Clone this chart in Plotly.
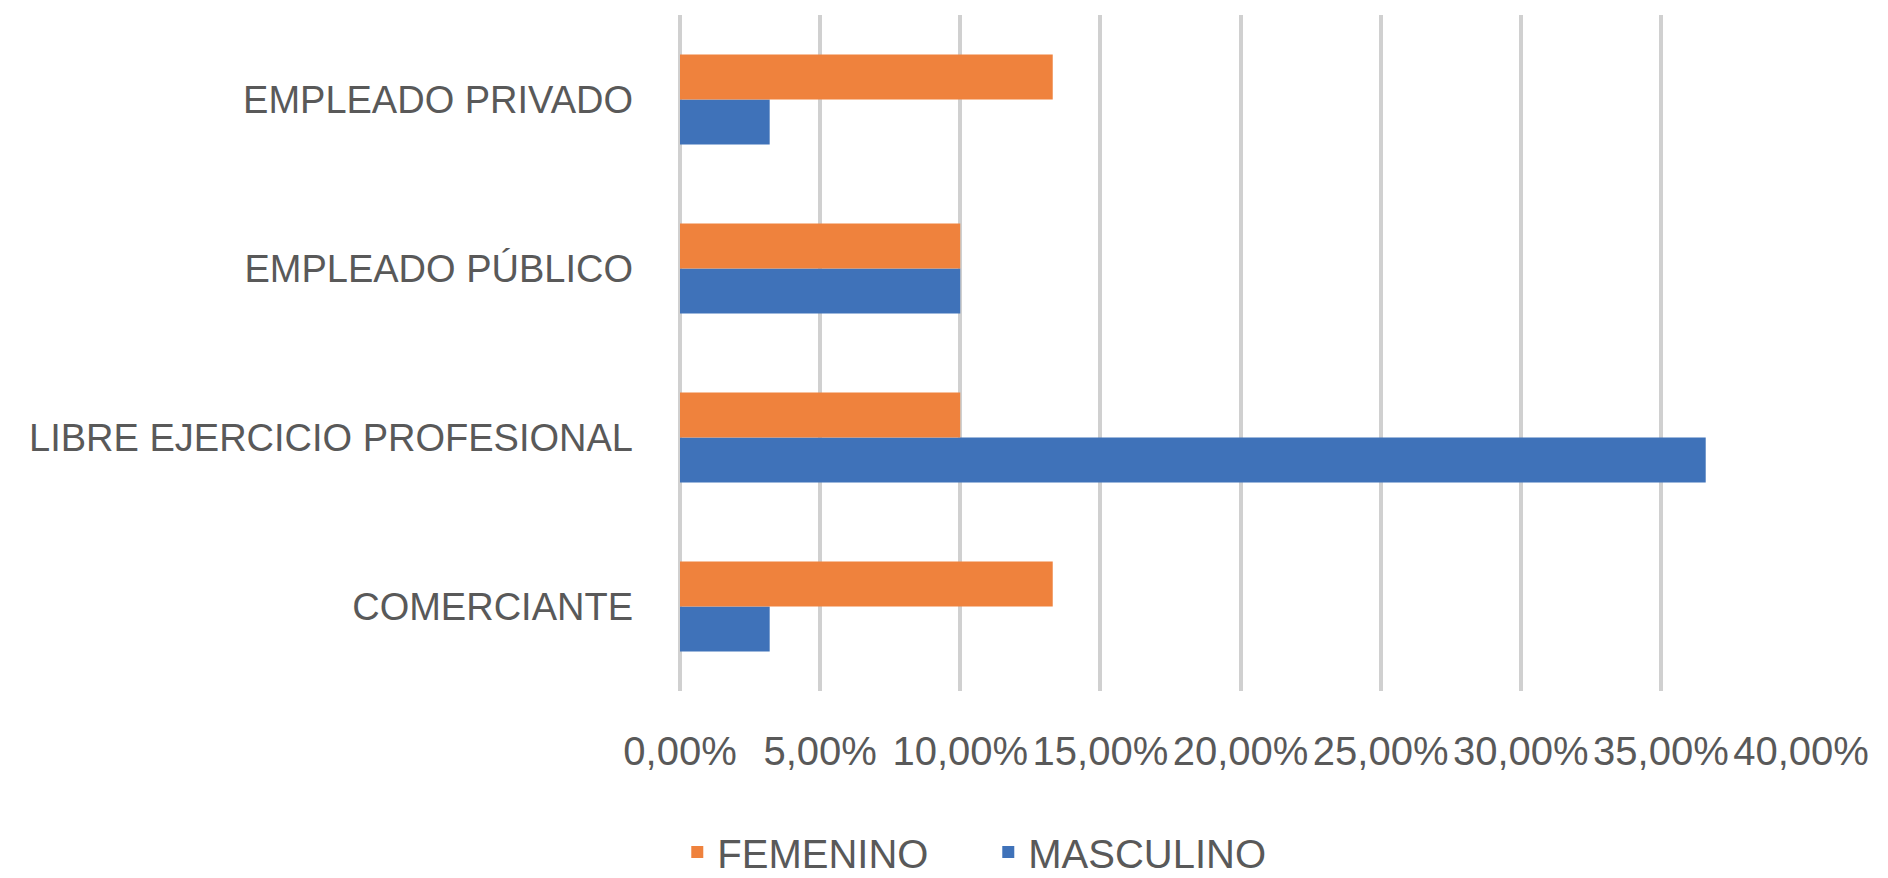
import plotly.graph_objects as go

categories = ["COMERCIANTE", "LIBRE EJERCICIO PROFESIONAL", "EMPLEADO PÚBLICO", "EMPLEADO PRIVADO"]
femenino = [0.133, 0.100, 0.100, 0.133]
masculino = [0.032, 0.366, 0.100, 0.032]
x_ticks = [0, 0.05, 0.10, 0.15, 0.20, 0.25, 0.30, 0.35, 0.40]

FONT = "Liberation Sans"
TXT = "#595959"

fig = go.Figure()
fig.add_trace(go.Bar(y=categories, x=masculino, name="MASCULINO", orientation="h",
                     marker=dict(color="#3F72B9", line=dict(width=0))))
fig.add_trace(go.Bar(y=categories, x=femenino, name="FEMENINO", orientation="h",
                     marker=dict(color="#EF823D", line=dict(width=0))))

fig.update_layout(
    width=1880, height=870,
    paper_bgcolor="white", plot_bgcolor="white",
    margin=dict(l=672, r=87, t=7, b=187),
    barmode="group", bargap=0.467, bargroupgap=0,
    separators=",.",
    font=dict(family=FONT, size=38, color=TXT),
    showlegend=True,
    legend=dict(orientation="h", traceorder="reversed",
                xref="container", yref="container",
                x=0.356, xanchor="left", y=0.03, yanchor="middle",
                entrywidth=266, entrywidthmode="pixels",
                font=dict(family=FONT, size=40, color=TXT),
                itemsizing="constant"),
    xaxis=dict(range=[0, 0.40], tickvals=x_ticks, tickformat=".2%",
               showgrid=True, gridcolor="#D0D0D0", gridwidth=4,
               zeroline=True, zerolinecolor="#D0D0D0", zerolinewidth=4,
               showline=False, ticks="", ticklabelstandoff=33, automargin=False,
               tickfont=dict(family=FONT, size=40, color=TXT)),
    yaxis=dict(categoryorder="array", categoryarray=categories,
               showgrid=False, zeroline=False, showline=False, ticks="",
               ticklabelstandoff=46, automargin=False,
               tickfont=dict(family=FONT, size=38, color=TXT)),
)

fig.write_html("out.html")
